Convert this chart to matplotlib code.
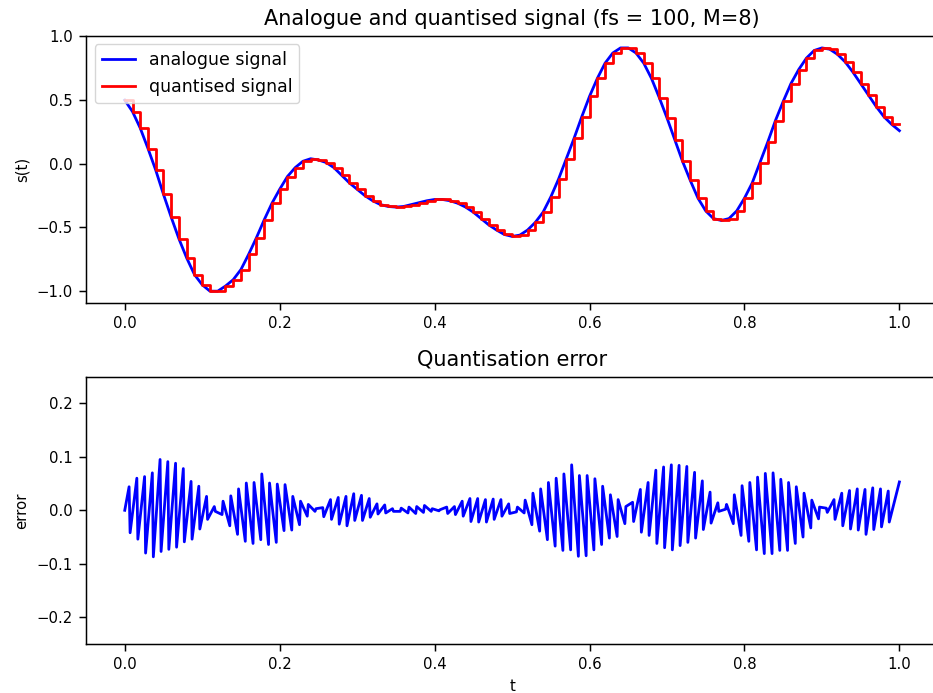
import numpy as np
import matplotlib
matplotlib.use("Agg")
from matplotlib import pyplot as plt

fs = 100

# analogue signal read at the sample instants t = 0, 0.01, ..., 1.0
analogue = [0.50, 0.41, 0.28, 0.12, -0.05, -0.24, -0.42, -0.59, -0.74, -0.87,
            -0.95, -1.00, -1.00, -0.96, -0.91, -0.83, -0.71, -0.58, -0.44, -0.31,
            -0.20, -0.10, -0.03, 0.02, 0.04, 0.03, 0.01, -0.03, -0.09, -0.15,
            -0.20, -0.25, -0.29, -0.32, -0.335, -0.34, -0.335, -0.32, -0.305, -0.29,
            -0.28, -0.28, -0.29, -0.31, -0.34, -0.38, -0.43, -0.48, -0.52, -0.555,
            -0.57, -0.56, -0.52, -0.46, -0.38, -0.26, -0.12, 0.04, 0.20, 0.37,
            0.53, 0.67, 0.79, 0.87, 0.91, 0.91, 0.87, 0.79, 0.67, 0.52,
            0.36, 0.19, 0.02, -0.13, -0.27, -0.37, -0.43, -0.445, -0.43, -0.37,
            -0.27, -0.15, 0.01, 0.17, 0.34, 0.49, 0.63, 0.74, 0.83, 0.89,
            0.91, 0.90, 0.86, 0.80, 0.72, 0.63, 0.54, 0.45, 0.37, 0.31,
            0.26]

# quantised (held) values, last sample held to t = 1.0
quantised = analogue[:100] + [analogue[99]]

# quantisation error just before / after each step change
err_before = [0.044, 0.060, 0.063, 0.070, 0.095, 0.091, 0.088, 0.078, 0.054, 0.045,
              0.026, 0.007, -0.008, -0.029, -0.045, -0.058, -0.062, -0.055, -0.064, -0.060,
              -0.038, -0.037, -0.027, -0.011, -0.002, 0.005, 0.020, 0.024, 0.026, 0.031,
              0.028, 0.022, 0.012, 0.010, 0.003, -0.002, -0.005, -0.006, -0.004, -0.002,
              -0.001, 0.006, 0.007, 0.017, 0.022, 0.022, 0.020, 0.021, 0.020, 0.012,
              -0.003, -0.005, -0.027, -0.039, -0.055, -0.067, -0.075, -0.074, -0.086, -0.085,
              -0.074, -0.064, -0.052, -0.049, -0.025, 0.015, 0.039, 0.052, 0.075, 0.081,
              0.085, 0.084, 0.082, 0.071, 0.055, 0.034, 0.014, 0.002, -0.025, -0.047,
              -0.058, -0.074, -0.081, -0.081, -0.075, -0.075, -0.062, -0.050, -0.033, -0.016,
              0.004, 0.020, 0.032, 0.037, 0.040, 0.039, 0.042, 0.040, 0.036]
err_after = [-0.042, -0.054, -0.080, -0.087, -0.077, -0.073, -0.069, -0.059, -0.054, -0.035,
             -0.017, -0.002, 0.017, 0.027, 0.040, 0.051, 0.052, 0.068, 0.051, 0.049,
             0.048, 0.026, 0.017, 0.011, 0.003, -0.012, -0.017, -0.026, -0.029, -0.019,
             -0.019, -0.013, -0.007, -0.005, -0.002, 0.004, 0.006, 0.007, 0.009, 0.003,
             0.001, -0.006, -0.008, -0.011, -0.021, -0.022, -0.022, -0.017, -0.011, -0.006,
             0.006, 0.019, 0.032, 0.040, 0.052, 0.060, 0.068, 0.085, 0.065, 0.065,
             0.059, 0.045, 0.029, 0.020, 0.007, -0.021, -0.041, -0.047, -0.062, -0.070,
             -0.074, -0.066, -0.060, -0.052, -0.036, -0.024, -0.002, 0.011, 0.029, 0.046,
             0.052, 0.062, 0.069, 0.070, 0.058, 0.052, 0.044, 0.032, 0.019, 0.006,
             -0.004, -0.017, -0.029, -0.035, -0.037, -0.045, -0.036, -0.031, -0.022]
err_start = 0.0
err_end = 0.053

t = np.arange(len(analogue)) / fs

t_err = [0.0]
e = [err_start]
for k in range(len(err_before)):
    t_err += [k / fs + 0.0056, k / fs + 0.0069]
    e += [err_before[k], err_after[k]]
t_err.append(1.0)
e.append(err_end)

plt.rcParams["axes.linewidth"] = 1.07
plt.rcParams["xtick.major.size"] = 4.7
plt.rcParams["ytick.major.size"] = 4.7
plt.rcParams["xtick.major.width"] = 1.07
plt.rcParams["ytick.major.width"] = 1.07
plt.rcParams["xtick.major.pad"] = 4.7
plt.rcParams["ytick.major.pad"] = 4.7
plt.rcParams["xtick.labelsize"] = 10.7
plt.rcParams["ytick.labelsize"] = 10.7
plt.rcParams["axes.labelsize"] = 10.7
plt.rcParams["axes.labelpad"] = 5.3
plt.rcParams["axes.titlesize"] = 15
plt.rcParams["axes.titlepad"] = 8
plt.rcParams["legend.fontsize"] = 12.5

fig = plt.figure(figsize=(9.33, 6.93), dpi=100)
ax1 = fig.add_axes([0.0922, 0.5623, 0.9133, 0.3861])
ax2 = fig.add_axes([0.0922, 0.0707, 0.9133, 0.3859])

ax1.plot(t, analogue, color="blue", lw=2, label="analogue signal")
ax1.step(t, quantised, where="post", color="red", lw=2, label="quantised signal")
ax1.set_title("Analogue and quantised signal (fs = 100, M=8)")
ax1.set_ylabel("s(t)")
ax1.set_xlim(-0.05, 1.05)
ax1.set_yticks([-1.0, -0.5, 0.0, 0.5, 1.0])
ax1.legend(loc="upper left", handlelength=1.9)

ax2.plot(t_err, e, color="blue", lw=2)
ax2.set_title("Quantisation error")
ax2.set_ylabel("error")
ax2.set_xlabel("t")
ax2.set_xlim(-0.05, 1.05)
ax2.set_ylim(-0.25, 0.25)

fig.savefig("out.png")
